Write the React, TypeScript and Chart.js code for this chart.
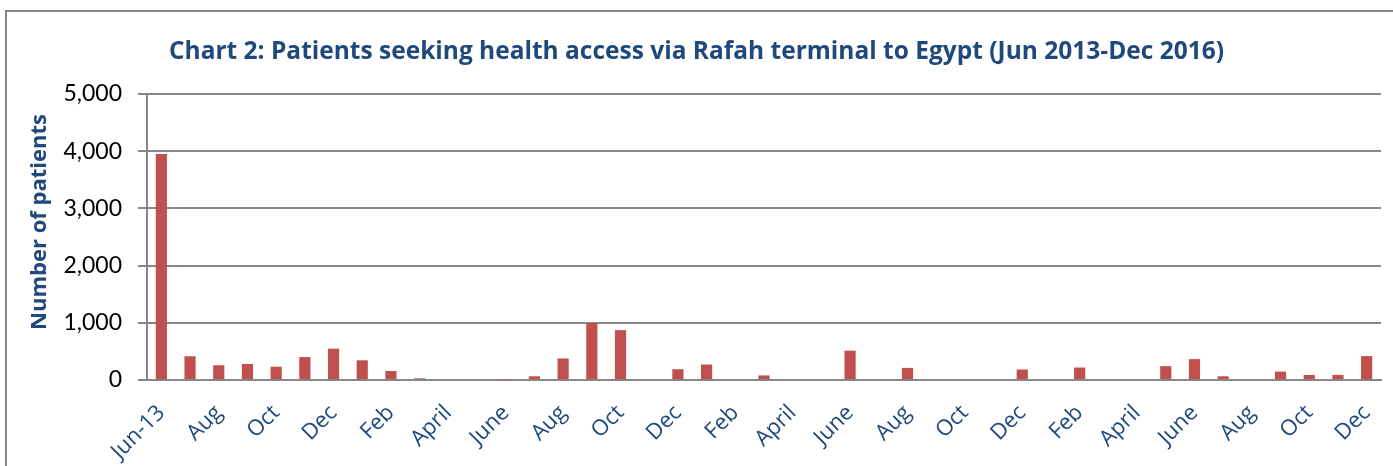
import React, { useEffect, useRef } from 'react';
import { Chart, registerables } from 'chart.js';

Chart.register(...registerables);

const categories = [
  'Jun-13', 'Jul', 'Aug', 'Sep', 'Oct', 'Nov', 'Dec',
  'Jan', 'Feb', 'Mar', 'April', 'May', 'June', 'July', 'Aug', 'Sep', 'Oct', 'Nov', 'Dec',
  'Jan', 'Feb', 'Mar', 'April', 'May', 'June', 'July', 'Aug', 'Sep', 'Oct', 'Nov', 'Dec',
  'Jan', 'Feb', 'Mar', 'April', 'May', 'June', 'July', 'Aug', 'Sep', 'Oct', 'Nov', 'Dec',
];

const patients = [
  3950, 415, 257, 280, 233, 402, 548,
  344, 157, 30, 17, 0, 10, 65, 377, 995, 872, 0, 189,
  271, 0, 80, 0, 0, 513, 0, 212, 0, 0, 0, 183,
  0, 218, 0, 0, 242, 365, 65, 0, 147, 88, 88, 418,
];

const yMin = 0;
const yMax = 5000;
const yStep = 1000;

const chartTitle = 'Chart 2: Patients seeking health access via Rafah terminal to Egypt (Jun 2013-Dec 2016)';
const yAxisTitle = 'Number of patients';

const BLUE = '#1F497D';
const GRID = '#878787';

export default function App() {
  const ref = useRef<HTMLCanvasElement>(null);

  useEffect(() => {
    if (!ref.current) return;

    const frame = {
      id: 'frame',
      beforeDraw(chart: any) {
        const ctx = chart.ctx;
        ctx.save();
        ctx.strokeStyle = GRID;
        ctx.lineWidth = 2;
        ctx.beginPath();
        ctx.moveTo(6, chart.height);
        ctx.lineTo(6, 11);
        ctx.lineTo(chart.width, 11);
        ctx.stroke();
        ctx.restore();
      },
    };

    const yTitle = {
      id: 'yTitle',
      afterDraw(chart: any) {
        const ctx = chart.ctx;
        ctx.save();
        ctx.translate(40, 222);
        ctx.rotate(-Math.PI / 2);
        ctx.fillStyle = BLUE;
        ctx.font = 'bold 22px "Open Sans"';
        ctx.textAlign = 'center';
        ctx.textBaseline = 'middle';
        ctx.fillText(yAxisTitle, 0, 0);
        ctx.restore();
      },
    };

    const chart = new Chart(ref.current, {
      type: 'bar',
      data: {
        labels: categories,
        datasets: [
          {
            data: patients,
            backgroundColor: '#C0504D',
            borderWidth: 0,
            barPercentage: 0.39,
            categoryPercentage: 1,
          },
        ],
      },
      options: {
        animation: false,
        responsive: true,
        maintainAspectRatio: false,
        layout: { padding: 0 },
        plugins: {
          legend: { display: false },
          tooltip: { enabled: false },
          title: {
            display: true,
            text: chartTitle,
            color: BLUE,
            font: { family: 'Open Sans', weight: 'bold', size: 24.5, lineHeight: 1.2 },
            padding: { top: 37, bottom: 27.6 },
          },
        },
        scales: {
          x: {
            grid: { display: false, drawTicks: false },
            border: { display: true, color: GRID, width: 2 },
            ticks: {
              autoSkip: false,
              minRotation: 45,
              maxRotation: 45,
              color: BLUE,
              padding: 20,
              font: { family: 'Open Sans', size: 22 },
              callback: (_v: any, i: number) => (i % 2 === 0 ? categories[i] : ''),
            },
            afterFit: (s: any) => {
              s.height = 86;
              s.paddingLeft = 0;
              s.paddingRight = 12;
            },
          },
          y: {
            min: yMin,
            max: yMax,
            grid: { color: GRID, lineWidth: 2, tickLength: 9 },
            border: { color: GRID, width: 2 },
            ticks: {
              stepSize: yStep,
              color: '#000000',
              padding: 16,
              font: { family: 'Lato', size: 23 },
              callback: (v: any) => Number(v).toLocaleString('en-US'),
            },
            afterFit: (s: any) => {
              s.width = 147;
            },
          },
        },
      },
      plugins: [frame, yTitle],
    });

    return () => chart.destroy();
  }, []);

  return (
    <div style={{ position: 'absolute', left: 0, top: 0, width: 1393, height: 466 }}>
      <canvas ref={ref} />
    </div>
  );
}
